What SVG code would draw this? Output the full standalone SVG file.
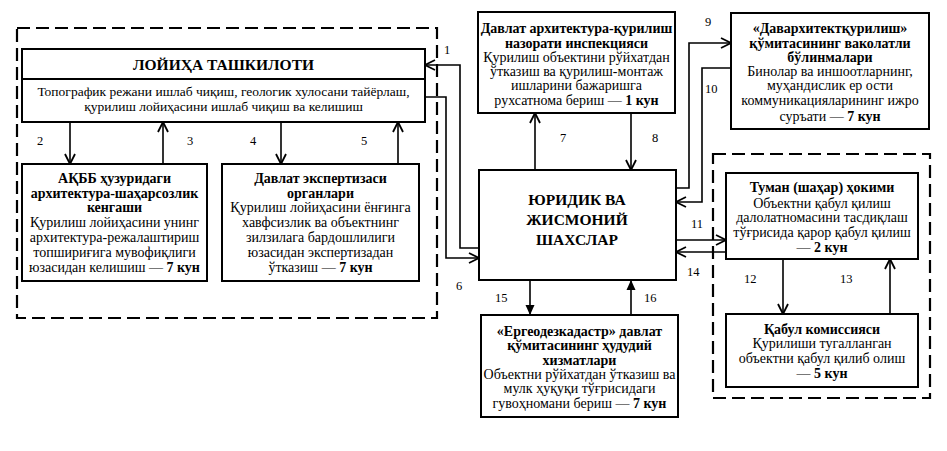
<svg xmlns="http://www.w3.org/2000/svg" width="947" height="451" viewBox="0 0 947 451">
<defs>
<marker id="open" viewBox="0 0 12 12" refX="11" refY="6" markerWidth="12" markerHeight="12" markerUnits="userSpaceOnUse" orient="auto">
<path d="M1,1 L11,6 L1,11" fill="none" stroke="#000" stroke-width="1.8"/>
</marker>
<marker id="solid" viewBox="0 0 10 10" refX="10" refY="5" markerWidth="10" markerHeight="10" markerUnits="userSpaceOnUse" orient="auto">
<path d="M0,0.5 L10,5 L0,9.5 Z" fill="#000"/>
</marker>
</defs>
<style>
text{fill:#000;text-anchor:middle;font-family:'Liberation Serif',serif}
.t{font-size:14px}
.s{font-size:13.5px}
.b{font-weight:bold}
.h{font-size:15.5px;font-weight:bold}
.n{font-size:12.5px;text-anchor:start}
.box{fill:#fff;stroke:#000;stroke-width:2}
.dash{fill:none;stroke:#000;stroke-width:2.2;stroke-dasharray:13 6}
.c{fill:none;stroke:#000;stroke-width:1.6}
</style>
<rect width="947" height="451" fill="#fff"/>
<g id="groups">
<rect class="dash" x="17" y="28" width="420" height="290"/>
<rect class="dash" x="713" y="154" width="217" height="244"/>
</g>
<g id="connectors">
<path class="c" d="M479,248 H460 V65 H425" marker-end="url(#open)"/>
<path class="c" d="M70,122 V164" marker-end="url(#open)"/>
<path class="c" d="M163,164 V122" marker-end="url(#open)"/>
<path class="c" d="M281,122 V164" marker-end="url(#open)"/>
<path class="c" d="M398,164 V122" marker-end="url(#open)"/>
<path class="c" d="M425,97 H446 V258 H479" marker-end="url(#open)"/>
<path class="c" d="M535,170 V113" marker-end="url(#open)"/>
<path class="c" d="M631,113 V170" marker-end="url(#open)"/>
<path class="c" d="M676,188 H689 V43 H731" marker-end="url(#open)"/>
<path class="c" d="M731,68 H702 V202 H676" marker-end="url(#open)"/>
<path class="c" d="M676,240 H726" marker-end="url(#open)"/>
<path class="c" d="M783,259 V314" marker-end="url(#open)"/>
<path class="c" d="M890,314 V259" marker-end="url(#open)"/>
<path class="c" d="M726,252 H676" marker-end="url(#open)"/>
<path class="c" d="M530,280 V315" marker-end="url(#solid)"/>
<path class="c" d="M631,315 V280" marker-end="url(#solid)"/>
<text font-family="Liberation Serif, serif" class="n" x="444" y="54">1</text>
<text font-family="Liberation Serif, serif" class="n" x="37" y="145">2</text>
<text font-family="Liberation Serif, serif" class="n" x="187" y="145">3</text>
<text font-family="Liberation Serif, serif" class="n" x="250" y="145">4</text>
<text font-family="Liberation Serif, serif" class="n" x="361" y="145">5</text>
<text font-family="Liberation Serif, serif" class="n" x="456" y="290">6</text>
<text font-family="Liberation Serif, serif" class="n" x="560" y="142">7</text>
<text font-family="Liberation Serif, serif" class="n" x="652" y="142">8</text>
<text font-family="Liberation Serif, serif" class="n" x="705" y="26">9</text>
<text font-family="Liberation Serif, serif" class="n" x="705" y="93">10</text>
<text font-family="Liberation Serif, serif" class="n" x="691" y="228">11</text>
<text font-family="Liberation Serif, serif" class="n" x="744" y="283">12</text>
<text font-family="Liberation Serif, serif" class="n" x="840" y="283">13</text>
<text font-family="Liberation Serif, serif" class="n" x="687" y="276">14</text>
<text font-family="Liberation Serif, serif" class="n" x="495" y="302">15</text>
<text font-family="Liberation Serif, serif" class="n" x="644" y="302">16</text>
</g>
<g id="lojiha">
<rect class="box" x="22" y="49" width="403" height="73"/>
<line x1="22" y1="79" x2="425" y2="79" stroke="#000" stroke-width="2"/>
<text font-family="Liberation Serif, serif" class="h" x="223.5" y="70">ЛОЙИҲА ТАШКИЛОТИ</text>
<text font-family="Liberation Serif, serif" class="s" x="223.5" y="96">Топографик режани ишлаб чиқиш, геологик хулосани тайёрлаш,</text>
<text font-family="Liberation Serif, serif" class="s" x="223.5" y="111">қурилиш лойиҳасини ишлаб чиқиш ва келишиш</text>
</g>
<g id="akbb">
<rect class="box" x="22" y="164" width="185" height="117"/>
<text font-family="Liberation Serif, serif" class="t b" x="114.5" y="183">АҚББ ҳузуридаги</text>
<text font-family="Liberation Serif, serif" class="t b" x="114.5" y="198">архитектура-шаҳарсозлик</text>
<text font-family="Liberation Serif, serif" class="t b" x="114.5" y="212">кенгаши</text>
<text font-family="Liberation Serif, serif" class="t" x="114.5" y="227">Қурилиш лойиҳасини унинг</text>
<text font-family="Liberation Serif, serif" class="t" x="114.5" y="242">архитектура-режалаштириш</text>
<text font-family="Liberation Serif, serif" class="t" x="114.5" y="257">топшириғига мувофиқлиги</text>
<text font-family="Liberation Serif, serif" class="t" x="114.5" y="272">юзасидан келишиш — <tspan class="b">7 кун</tspan></text>
</g>
<g id="ekspertiza">
<rect class="box" x="222" y="164" width="197" height="117"/>
<text font-family="Liberation Serif, serif" class="t b" x="320.5" y="183">Давлат экспертизаси</text>
<text font-family="Liberation Serif, serif" class="t b" x="320.5" y="198">органлари</text>
<text font-family="Liberation Serif, serif" class="t" x="320.5" y="212">Қурилиш лойиҳасини ёнғинга</text>
<text font-family="Liberation Serif, serif" class="t" x="320.5" y="227">хавфсизлик ва объектнинг</text>
<text font-family="Liberation Serif, serif" class="t" x="320.5" y="242">зилзилага бардошлилиги</text>
<text font-family="Liberation Serif, serif" class="t" x="320.5" y="257">юзасидан экспертизадан</text>
<text font-family="Liberation Serif, serif" class="t" x="320.5" y="272">ўтказиш — <tspan class="b">7 кун</tspan></text>
</g>
<g id="inspeksiya">
<rect class="box" x="478" y="12" width="197" height="101"/>
<text font-family="Liberation Serif, serif" class="t b" x="576.5" y="33">Давлат архитектура-қурилиш</text>
<text font-family="Liberation Serif, serif" class="t b" x="576.5" y="48">назорати инспекцияси</text>
<text font-family="Liberation Serif, serif" class="t" x="576.5" y="62">Қурилиш объектини рўйхатдан</text>
<text font-family="Liberation Serif, serif" class="t" x="576.5" y="76">ўтказиш ва қурилиш-монтаж</text>
<text font-family="Liberation Serif, serif" class="t" x="576.5" y="90">ишларини бажаришга</text>
<text font-family="Liberation Serif, serif" class="t" x="576.5" y="105">рухсатнома бериш — <tspan class="b">1 кун</tspan></text>
</g>
<g id="davarxitekt">
<rect class="box" x="731" y="13" width="198" height="116"/>
<text font-family="Liberation Serif, serif" class="t b" x="830" y="33">«Давархитектқурилиш»</text>
<text font-family="Liberation Serif, serif" class="t b" x="830" y="48">қўмитасининг ваколатли</text>
<text font-family="Liberation Serif, serif" class="t b" x="830" y="62">бўлинмалари</text>
<text font-family="Liberation Serif, serif" class="t" x="830" y="76">Бинолар ва иншоотларнинг,</text>
<text font-family="Liberation Serif, serif" class="t" x="830" y="90">муҳандислик ер ости</text>
<text font-family="Liberation Serif, serif" class="t" x="830" y="105">коммуникацияларининг ижро</text>
<text font-family="Liberation Serif, serif" class="t" x="830" y="121">суръати — <tspan class="b">7 кун</tspan></text>
</g>
<g id="shaxslar">
<rect class="box" x="479" y="170" width="197" height="110"/>
<text font-family="Liberation Serif, serif" class="h" x="577" y="205">ЮРИДИК ВА</text>
<text font-family="Liberation Serif, serif" class="h" x="577" y="225">ЖИСМОНИЙ</text>
<text font-family="Liberation Serif, serif" class="h" x="577" y="245">ШАХСЛАР</text>
</g>
<g id="hokim">
<rect class="box" x="726" y="173" width="192" height="86"/>
<text font-family="Liberation Serif, serif" class="t b" x="822" y="192">Туман (шаҳар) ҳокими</text>
<text font-family="Liberation Serif, serif" class="t" x="822" y="208">Объектни қабул қилиш</text>
<text font-family="Liberation Serif, serif" class="t" x="822" y="222">далолатномасини тасдиқлаш</text>
<text font-family="Liberation Serif, serif" class="t" x="822" y="237">тўғрисида қарор қабул қилиш</text>
<text font-family="Liberation Serif, serif" class="t" x="822" y="252">— <tspan class="b">2 кун</tspan></text>
</g>
<g id="komissiya">
<rect class="box" x="726" y="314" width="192" height="73"/>
<text font-family="Liberation Serif, serif" class="t b" x="822" y="334">Қабул комиссияси</text>
<text font-family="Liberation Serif, serif" class="t" x="822" y="348">Қурилиши тугалланган</text>
<text font-family="Liberation Serif, serif" class="t" x="822" y="363">объектни қабул қилиб олиш</text>
<text font-family="Liberation Serif, serif" class="t" x="822" y="378">— <tspan class="b">5 кун</tspan></text>
</g>
<g id="ergeodez">
<rect class="box" x="481" y="315" width="197" height="102"/>
<text font-family="Liberation Serif, serif" class="t b" x="579.5" y="336">«Ергеодезкадастр» давлат</text>
<text font-family="Liberation Serif, serif" class="t b" x="579.5" y="350">қўмитасининг ҳудудий</text>
<text font-family="Liberation Serif, serif" class="t b" x="579.5" y="365">хизматлари</text>
<text font-family="Liberation Serif, serif" class="t" x="579.5" y="379">Объектни рўйхатдан ўтказиш ва</text>
<text font-family="Liberation Serif, serif" class="t" x="579.5" y="393">мулк ҳуқуқи тўғрисидаги</text>
<text font-family="Liberation Serif, serif" class="t" x="579.5" y="408">гувоҳномани бериш — <tspan class="b">7 кун</tspan></text>
</g>
</svg>
